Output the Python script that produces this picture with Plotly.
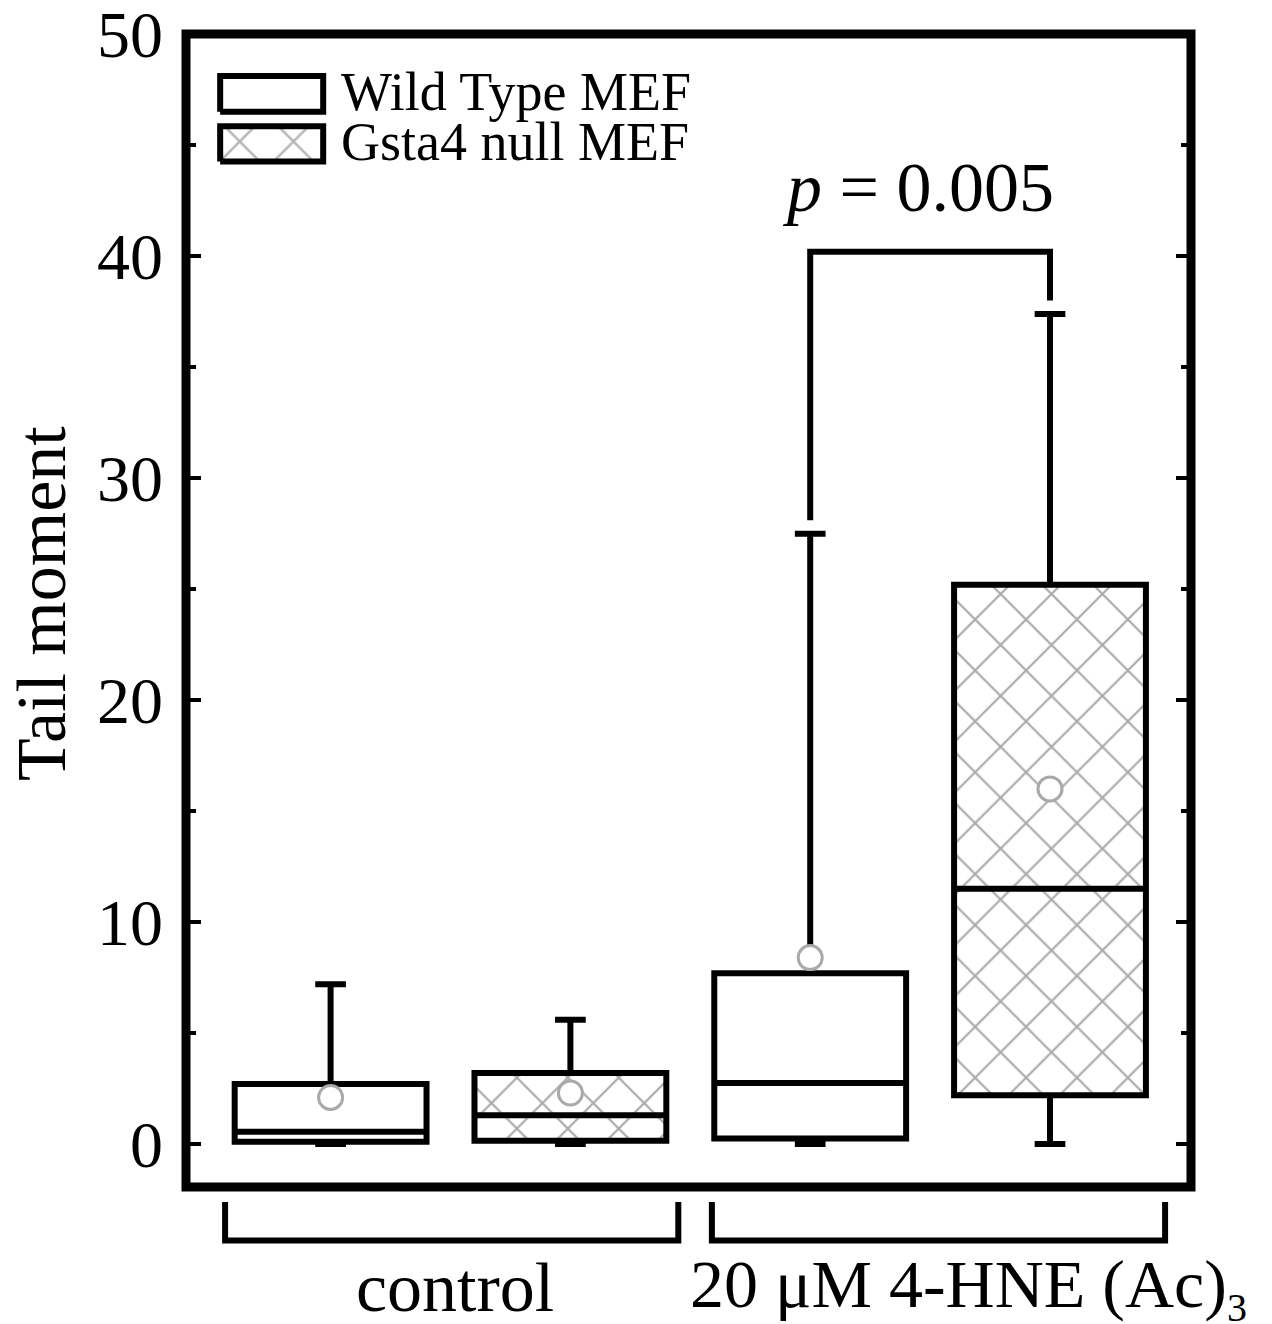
import plotly.graph_objects as go

# ---------------- data ----------------
positions = [1, 2, 3, 4]
groups = ["Wild Type MEF", "Gsta4 null MEF", "Wild Type MEF", "Gsta4 null MEF"]
q1 = [0.1, 0.15, 0.25, 2.2]
median = [0.55, 1.3, 2.75, 11.5]
q3 = [2.7, 3.2, 7.7, 25.2]
lower_fence = [0.0, 0.0, 0.0, 0.0]
upper_fence = [7.2, 5.6, 27.5, 37.4]
means = [2.1, 2.3, 8.4, 16.0]

y_ticks = [0, 10, 20, 30, 40, 50]
y_range = [-1.935, 50.01]
x_range = [0.397, 4.588]
y_title = "Tail moment"

# significance bracket (between boxes 3 and 4)
sig_x = [3, 3, 4, 4]
sig_y = [28.1, 40.2, 40.2, 38.0]
sig_label = "<i>p</i> = 0.005"
sig_label_pos = (3.448, 43.1)

# category brackets below axis (data x spans)
cat_labels = ["control", "20 μM 4-HNE (Ac)<sub><span style='font-size:40px'>3</span></sub>"]
cat_spans = [(0.56, 2.45), (2.59, 4.48)]
cat_label_x = [1.519, 2.49]

BOX_W = 0.8
FONT = "Liberation Serif, Times New Roman, serif"

fig = go.Figure()

# patterned fill for Gsta4 null boxes (drawn under box outlines)
gsta_idx = [i for i, g in enumerate(groups) if g == "Gsta4 null MEF"]
fig.add_trace(go.Bar(
    x=[positions[i] for i in gsta_idx],
    y=[q3[i] - q1[i] for i in gsta_idx],
    base=[q1[i] for i in gsta_idx],
    width=BOX_W,
    marker=dict(color="white", line=dict(width=0),
                pattern=dict(shape="x", fgcolor="#555555", bgcolor="white",
                             size=36, solidity=0.12)),
    showlegend=False, hoverinfo="skip",
))

for i, p in enumerate(positions):
    fill = "white" if groups[i] == "Wild Type MEF" else "rgba(0,0,0,0)"
    fig.add_trace(go.Box(
        x=[p], q1=[q1[i]], median=[median[i]], q3=[q3[i]],
        lowerfence=[lower_fence[i]], upperfence=[upper_fence[i]],
        width=BOX_W, whiskerwidth=0.16, boxpoints=False,
        line=dict(color="black", width=6), fillcolor=fill,
        showlegend=False, hoverinfo="skip",
    ))

# means
fig.add_trace(go.Scatter(
    x=positions, y=means, mode="markers",
    marker=dict(symbol="circle", size=24, color="white",
                line=dict(color="#a9a9a9", width=3)),
    showlegend=False, hoverinfo="skip",
))

# significance bracket
fig.add_trace(go.Scatter(
    x=sig_x, y=sig_y, mode="lines",
    line=dict(color="black", width=6), showlegend=False, hoverinfo="skip",
))
fig.add_annotation(x=sig_label_pos[0], y=sig_label_pos[1], text=sig_label,
                   showarrow=False, font=dict(family=FONT, size=70, color="black"),
                   xanchor="center", yanchor="middle")

# ---------------- custom legend (overlay paper-like axes) ----------------
legend_keys = [("Wild Type MEF", 0.9635, 0.9325, None),
               ("Gsta4 null MEF", 0.9200, 0.8895, "x")]
kx0, kx1 = 0.0340, 0.1365
for name, ytop, ybot, pat in legend_keys:
    fig.add_trace(go.Scatter(
        x=[kx0, kx1, kx1, kx0, kx0], y=[ybot, ybot, ytop, ytop, ybot],
        mode="lines", fill="toself", fillcolor="white",
        fillpattern=(dict(shape="x", fgcolor="#666666", bgcolor="white", size=38, solidity=0.12)
                     if pat else None),
        line=dict(color="black", width=6),
        xaxis="x2", yaxis="y2", showlegend=False, hoverinfo="skip",
    ))
    fig.add_annotation(x=0.152, y=(ytop + ybot) / 2 + 0.002, xref="paper", yref="paper",
                       text=name, showarrow=False, xanchor="left", yanchor="middle",
                       font=dict(family=FONT, size=54, color="black"))

# category brackets and labels
for (a, b), lab, lx in zip(cat_spans, cat_labels, cat_label_x):
    fig.add_shape(type="path", xref="x", yref="paper",
                  path=f"M {a},-0.013 L {a},-0.0465 L {b},-0.0465 L {b},-0.013",
                  line=dict(color="black", width=6))
    fig.add_annotation(x=lx, y=-0.0875, xref="x", yref="paper", text=lab,
                       showarrow=False, xanchor="left" if lab != "control" else "center",
                       yanchor="middle",
                       font=dict(family=FONT, size=68 if lab != "control" else 70, color="black"))

# y-axis title as a rotated annotation (placed further left than the axis title allows)
fig.add_annotation(x=-0.1443, y=0.5065, xref="paper", yref="paper", text=y_title,
                   textangle=-90, showarrow=False, xanchor="center", yanchor="middle",
                   font=dict(family=FONT, size=70, color="black"))

# frame
fig.add_shape(type="rect", xref="paper", yref="paper", x0=0, x1=1, y0=0, y1=1,
              line=dict(color="black", width=9), layer="above")

# page body has an 8px margin, so the figure is 8px smaller and shifted margins
fig.update_layout(
    width=1264, height=1316,
    margin=dict(l=178, r=81, t=26, b=137, autoexpand=False),
    paper_bgcolor="white", plot_bgcolor="white",
    boxmode="overlay", barmode="overlay",
    showlegend=False,
    font=dict(family=FONT, color="black"),
    xaxis=dict(range=x_range, showgrid=False, zeroline=False, showline=False,
               showticklabels=False, ticks="", automargin=False),
    yaxis=dict(range=y_range, tickvals=y_ticks, showgrid=False, zeroline=False,
               showline=False, mirror="ticks", ticks="inside", ticklen=15,
               tickwidth=4, tickcolor="black", automargin=False,
               minor=dict(dtick=5, tick0=0, ticks="inside", ticklen=10,
                          tickwidth=4, tickcolor="black"),
               tickfont=dict(family=FONT, size=66, color="black"),
               ticklabelstandoff=22, ticklabeloverflow="allow"),
    xaxis2=dict(overlaying="x", range=[0, 1], visible=False),
    yaxis2=dict(overlaying="y", range=[0, 1], visible=False),
)

fig.write_html("out.html")
